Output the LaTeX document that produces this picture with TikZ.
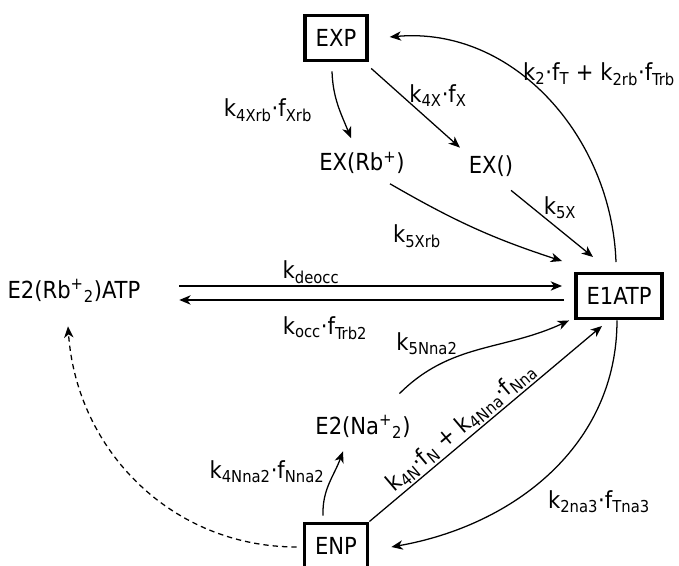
\documentclass[tikz,border=0pt]{standalone}
\usepackage{fontspec}
\setmainfont{DejaVu Sans Condensed}
\usetikzlibrary{arrows.meta}

\begin{document}
\begin{tikzpicture}[x=0.75pt, y=0.75pt, font=\fontsize{17.6}{20}\selectfont,
    arr/.style={-{Stealth[length=8.5pt,width=7pt,inset=2.5pt]}, line width=0.95pt},
    state/.style={draw, line width=2.7pt, inner xsep=8pt, minimum height=34pt},
    species/.style={inner sep=2pt},
    rate/.style={inner sep=1pt}]
\useasboundingbox (0,0) rectangle (679,566);

\node[state] (exp) at (336,528) {EXP};
\node[species] (exrb) at (362,403) {EX(Rb\textsuperscript{+})};
\node[species] (exo) at (491,400) {EX()};
\node[state] (e1) at (619,270) {E1ATP};
\node[species] (e2rb) at (74,275) {E2(Rb\textsuperscript{+}\textsubscript{2})ATP};
\node[species] (e2na) at (363,139) {E2(Na\textsuperscript{+}\textsubscript{2})};
\node[state] (enp) at (336,20) {ENP};

\node[rate] (l4xrb) at (268,456) {k\textsubscript{4Xrb}·f\textsubscript{Xrb}};
\node[rate] (l4x) at (438,470) {k\textsubscript{4X}·f\textsubscript{X}};
\node[rate] (l5xrb) at (417,330) {k\textsubscript{5Xrb}};
\node[rate] (l5x) at (560,358) {k\textsubscript{5X}};
\node[rate] (l2) at (599,492) {k\textsubscript{2}·f\textsubscript{T} + k\textsubscript{2rb}·f\textsubscript{Trb}};
\node[rate] (ldeocc) at (311,294) {k\textsubscript{deocc}};
\node[rate] (locc) at (325,238) {k\textsubscript{occ}·f\textsubscript{Trb2}};
\node[rate] (l5nna2) at (427,222) {k\textsubscript{5Nna2}};
\node[rate] (l4nna2) at (267,94) {k\textsubscript{4Nna2}·f\textsubscript{Nna2}};
\node[rate] (l2na3) at (599,64) {k\textsubscript{2na3}·f\textsubscript{Tna3}};
\node[rate, rotate=40.3] (l4n) at (461,139) {k\textsubscript{4N}·f\textsubscript{N} + k\textsubscript{4Nna}·f\textsubscript{Nna}};

\draw[arr] ([shift={(-4,-9)}]exp.south) to[out=-88, in=112] ([shift={(-11,11)}]exrb.north);
\draw[arr] ([shift={(2.5,-6)}]exp.south east) -- ([shift={(-6,5)}]exo.north west);
\draw[arr] ([shift={(28,-7)}]exrb.south) to[out=-30, in=162] ([shift={(-12,10.5)}]e1.north west);
\draw[arr] ([shift={(-5,-11)}]exo.south east) -- ([shift={(-26,14.5)}]e1.north);
\draw[arr] ([shift={(-3,9.5)}]e1.north) to[out=92, in=5] ([shift={(21,1)}]exp.east);
\draw[arr] ([shift={(36,5)}]e2rb.east) -- ([shift={(-12,10)}]e1.west);
\draw[arr] ([shift={(-10,-4)}]e1.west) -- ([shift={(36,-9)}]e2rb.east);
\draw[arr] ([shift={(-14,19)}]e2na.north east) to[out=45, in=-155] ([shift={(-5,0)}]e1.south west);
\draw[arr] ([shift={(-13,6)}]enp.north) to[out=92, in=-110] ([shift={(-20,-10)}]e2na.south);
\draw[arr] (enp.north east) -- ([shift={(-17,-5.5)}]e1.south);
\draw[arr] ([shift={(-2,0)}]e1.south) to[out=-90, in=10] ([shift={(22,-1)}]enp.east);
\draw[arr, dash pattern=on 4pt off 3pt] ([shift={(-6,-1)}]enp.west) to[out=180, in=-86] ([shift={(-6,-21)}]e2rb.south);
\end{tikzpicture}
\end{document}
